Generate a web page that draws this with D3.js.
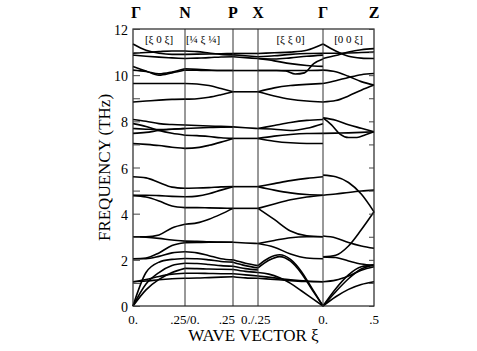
<!DOCTYPE html>
<html>
<head>
<meta charset="utf-8">
<script src="https://d3js.org/d3.v7.min.js"></script>
<style>
  body { margin: 0; background: #fff; }
  svg text { font-family: "Liberation Serif", "Times New Roman", Times, "DejaVu Serif", "Noto Serif", Tinos, serif; fill: #000; }
</style>
</head>
<body>
<div id="chart"></div>
<script>
// path through the zone
const points = ["Γ", "N", "P", "X", "Γ", "Z"];
const directions = ["[ξ 0 ξ]", "[¼ ξ ¼]", "", "[ξ ξ 0]", "[0 0 ξ]"];
const xiLabels = ["0.", ".25/0.", ".25", "0./.25", "0.", ".5"];
const freqTicks = [0, 2, 4, 6, 8, 10, 12];

// branches per segment, frequency (THz) sampled evenly from start to end of segment
const segGN = [
  [11.35, 11.08, 10.95, 10.9, 10.9],
  [10.95, 10.98, 11.02, 11.05, 11.05],
  [10.87, 10.82, 10.78, 10.75, 10.72],
  [10.38, 10.18, 10.0, 10.1, 10.22],
  [10.22, 10.16, 10.06, 10.14, 10.28],
  [9.64, 9.64, 9.64, 9.64, 9.64],
  [8.84, 8.88, 8.92, 8.95, 8.96],
  [8.08, 8.0, 7.9, 7.86, 7.84],
  [7.9, 7.78, 7.6, 7.48, 7.4],
  [7.69, 7.66, 7.64, 7.66, 7.69],
  [7.48, 7.52, 7.6, 7.66, 7.69],
  [7.04, 7.0, 6.95, 6.88, 6.83],
  [5.6, 5.55, 5.35, 5.15, 5.1],
  [4.8, 4.8, 4.78, 4.75, 4.73],
  [4.78, 4.72, 4.55, 4.33, 4.26],
  [3.0, 3.0, 3.08, 3.38, 3.54],
  [3.0, 2.98, 2.93, 2.86, 2.81],
  [2.05, 2.08, 2.3, 2.62, 2.74],
  [2.05, 2.05, 2.15, 2.3, 2.35],
  [1.05, 1.08, 1.14, 1.18, 1.2],
  [1.05, 1.15, 1.28, 1.38, 1.42],
  [0, 1.45, 1.9, 2.02, 2.06],
  [0, 0.95, 1.45, 1.75, 1.85],
  [0, 0.7, 1.15, 1.45, 1.63]
];
const segNP = [
  [10.9, 10.91, 10.92, 10.93, 10.94],
  [11.05, 11.02, 10.96, 10.9, 10.88],
  [10.72, 10.74, 10.76, 10.79, 10.8],
  [10.22, 10.21, 10.2, 10.2, 10.2],
  [10.28, 10.25, 10.22, 10.2, 10.2],
  [9.64, 9.62, 9.55, 9.42, 9.28],
  [8.96, 8.98, 9.04, 9.15, 9.28],
  [7.84, 7.82, 7.8, 7.78, 7.76],
  [7.69, 7.71, 7.73, 7.75, 7.76],
  [7.4, 7.38, 7.34, 7.29, 7.26],
  [6.83, 6.86, 6.96, 7.1, 7.26],
  [5.1, 5.11, 5.13, 5.16, 5.17],
  [4.73, 4.76, 4.86, 5.02, 5.17],
  [4.26, 4.26, 4.25, 4.24, 4.23],
  [3.54, 3.6, 3.76, 3.98, 4.23],
  [2.81, 2.8, 2.78, 2.77, 2.76],
  [2.74, 2.75, 2.76, 2.76, 2.76],
  [2.35, 2.3, 2.18, 2.05, 2.0],
  [2.06, 2.05, 2.0, 1.93, 1.9],
  [1.85, 1.84, 1.8, 1.75, 1.72],
  [1.63, 1.62, 1.6, 1.59, 1.58],
  [1.42, 1.42, 1.41, 1.4, 1.4],
  [1.2, 1.21, 1.23, 1.25, 1.27]
];
const segPX = [
  [10.94, 10.94, 10.94],
  [10.88, 10.84, 10.8],
  [10.8, 10.76, 10.72],
  [10.2, 10.2, 10.2],
  [9.28, 9.28, 9.28],
  [7.76, 7.72, 7.69],
  [7.26, 7.26, 7.26],
  [5.17, 5.17, 5.17],
  [4.23, 4.23, 4.23],
  [2.76, 2.73, 2.71],
  [2.0, 1.85, 1.75],
  [1.9, 1.75, 1.65],
  [1.72, 1.62, 1.56],
  [1.58, 1.5, 1.45],
  [1.4, 1.35, 1.3],
  [1.27, 1.22, 1.2]
];
const segXG = [
  [10.94, 10.97, 11.0, 11.08, 11.35],
  [10.8, 10.84, 10.9, 10.94, 10.95],
  [10.72, 10.7, 10.75, 10.82, 10.87],
  [10.72, 10.62, 10.5, 10.42, 10.38],
  [10.2, 10.2, 10.2, 10.18, 10.05, 10.1, 10.5, 10.7],
  [10.2, 10.2, 10.2, 10.2, 10.22],
  [9.28, 9.45, 9.55, 9.6, 9.64],
  [9.28, 9.1, 8.96, 8.88, 8.84],
  [7.69, 7.82, 7.95, 8.04, 8.08],
  [7.69, 7.66, 7.6, 7.7, 7.9],
  [7.26, 7.36, 7.43, 7.47, 7.48],
  [7.26, 7.14, 7.07, 7.04, 7.04],
  [5.17, 5.3, 5.43, 5.53, 5.6],
  [5.17, 5.02, 4.9, 4.83, 4.8],
  [4.23, 4.42, 4.6, 4.72, 4.8],
  [4.23, 3.75, 3.25, 3.04, 3.0],
  [2.71, 2.84, 2.96, 3.0, 3.0],
  [2.71, 2.55, 2.25, 2.08, 2.05],
  [1.75, 2.08, 2.22, 2.02, 1.5, 0.75, 0],
  [1.65, 1.98, 2.14, 1.94, 1.42, 0.7, 0],
  [1.45, 1.38, 1.22, 0.98, 0.66, 0.33, 0],
  [1.3, 1.22, 1.14, 1.08, 1.05],
  [1.2, 1.15, 1.1, 1.06, 1.05]
];
const segGZ = [
  [11.35, 11.05, 10.82, 10.74, 10.72],
  [10.72, 10.85, 11.0, 11.1, 11.15],
  [10.95, 10.95, 10.96, 10.98, 11.0],
  [10.22, 10.15, 9.95, 9.72, 9.57],
  [9.64, 9.76, 9.9, 10.02, 10.07],
  [8.84, 8.9, 9.1, 9.35, 9.57],
  [8.15, 8.05, 7.85, 7.7, 7.55],
  [8.15, 7.85, 7.45, 7.3, 7.3, 7.42, 7.55],
  [7.48, 7.49, 7.5, 7.52, 7.55],
  [5.67, 5.6, 5.35, 4.85, 4.08],
  [4.8, 4.85, 4.92, 4.98, 5.02],
  [3.03, 2.95, 2.75, 2.6, 2.5],
  [2.13, 2.2, 2.6, 3.3, 4.08],
  [2.13, 2.1, 1.95, 1.82, 1.77],
  [0, 0.75, 1.35, 1.7, 1.77],
  [0, 0.62, 1.18, 1.6, 1.77],
  [1.05, 1.12, 1.3, 1.55, 1.7],
  [0, 0.4, 0.72, 0.93, 1.05]
];
const segments = [segGN, segNP, segPX, segXG, segGZ];

const W = 477, H = 351;
const serif = '"Liberation Serif", "Times New Roman", Times, "DejaVu Serif", "Noto Serif", Tinos, serif';
const svg = d3.select("#chart").append("svg")
  .attr("width", W).attr("height", H)
  .attr("font-family", serif);

// piecewise x scale: segment index -> pixels
const x = d3.scaleLinear()
  .domain(d3.range(points.length))
  .range([133, 185, 233, 258, 323, 374]);
const y = d3.scaleLinear().domain([0, 12]).range([306, 29]);

// dispersion curves
segments.forEach(function (branches, s) {
  const line = d3.line()
    .x(function (d, i, arr) { return x(s + i / (arr.length - 1)); })
    .y(function (d) { return y(d); })
    .curve(d3.curveMonotoneX);
  svg.append("g")
    .selectAll("path")
    .data(branches)
    .join("path")
    .attr("fill", "none")
    .attr("stroke", "#000")
    .attr("stroke-width", 1.6)
    .attr("d", function (d) { return line(d); });
});

// vertical separators at zone points
svg.append("g")
  .selectAll("line")
  .data(d3.range(1, points.length - 1))
  .join("line")
  .attr("x1", function (d) { return x(d); })
  .attr("x2", function (d) { return x(d); })
  .attr("y1", y(12)).attr("y2", y(0))
  .attr("stroke", "#333").attr("stroke-width", 1);

// frame
svg.append("rect")
  .attr("x", x(0)).attr("y", y(12))
  .attr("width", x(5) - x(0)).attr("height", y(0) - y(12))
  .attr("fill", "none").attr("stroke", "#222").attr("stroke-width", 1.2);

// left axis, ticks pointing in
const left = svg.append("g")
  .attr("transform", `translate(${x(0)},0)`)
  .call(d3.axisLeft(y).tickValues(d3.range(0, 13)).tickSize(-7).tickPadding(5)
    .tickFormat(function (d) { return freqTicks.includes(d) ? d : ""; }));
left.attr("font-family", serif).attr("font-size", 14);
left.select(".domain").remove();
left.selectAll("line").attr("stroke", "#444");
left.selectAll("text").attr("dy", "0.4em");

// right axis ticks
const right = svg.append("g")
  .attr("transform", `translate(${x(5)},0)`)
  .call(d3.axisRight(y).tickValues(d3.range(0, 13)).tickSize(-5).tickFormat(""));
right.select(".domain").remove();
right.selectAll("line").attr("stroke", "#444");

// zone point names
svg.append("g")
  .selectAll("text")
  .data(points)
  .join("text")
  .attr("x", function (d, i) { return x(i) + (i === 0 ? 3 : 0); })
  .attr("y", 18)
  .attr("text-anchor", "middle")
  .style("font-size", "16px").style("font-weight", "bold")
  .text(function (d) { return d; });

// direction labels
svg.append("g")
  .selectAll("text")
  .data(directions)
  .join("text")
  .attr("x", function (d, i) { return x(i + 0.5) + (i === 1 ? -6 : 0); })
  .attr("y", 43)
  .attr("text-anchor", "middle")
  .style("font-size", "11px")
  .text(function (d) { return d; });

// xi tick labels
const xiAnchor = ["middle", "middle", "end", "start", "middle", "middle"];
const xiShift = [0, 0, 2, -17, 0, 0];
svg.append("g")
  .selectAll("text")
  .data(xiLabels)
  .join("text")
  .attr("x", function (d, i) { return x(i) + xiShift[i]; })
  .attr("y", 324)
  .attr("text-anchor", function (d, i) { return xiAnchor[i]; })
  .style("font-size", "13px")
  .text(function (d) { return d; });

// axis titles
svg.append("text")
  .attr("x", (x(0) + x(5)) / 2).attr("y", 341)
  .attr("text-anchor", "middle")
  .style("font-size", "17px")
  .text("WAVE VECTOR ξ");

svg.append("text")
  .attr("transform", `translate(110,${(y(0) + y(12)) / 2}) rotate(-90)`)
  .attr("text-anchor", "middle")
  .style("font-size", "17px")
  .text("FREQUENCY (THz)");
</script>
</body>
</html>
